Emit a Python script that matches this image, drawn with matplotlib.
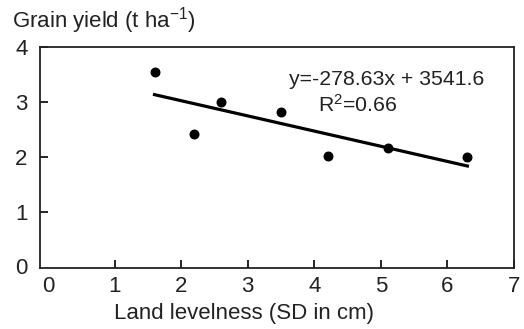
import numpy as np
import matplotlib
matplotlib.use("Agg")
import matplotlib.pyplot as plt

# land levelness (SD, cm) vs grain yield (t/ha)
levelness = [1.6, 2.2, 2.6, 3.5, 4.2, 5.1, 6.3]
grain_yield = [3.54, 2.42, 3.0, 2.82, 2.02, 2.16, 2.0]
x_ticks = [0, 1, 2, 3, 4, 5, 6, 7]
y_ticks = [0, 1, 2, 3, 4]
eq_text = "y=-278.63x + 3541.6"
r2_text = "R$^{2}$=0.66"

plt.rcParams['font.family'] = ['Liberation Sans', 'DejaVu Sans']
plt.rcParams['mathtext.fontset'] = 'custom'
plt.rcParams['mathtext.rm'] = 'Liberation Sans'
plt.rcParams['mathtext.it'] = 'Liberation Sans'
plt.rcParams['mathtext.default'] = 'regular'

fig = plt.figure(figsize=(5.24, 3.29), dpi=100)
ax = fig.add_axes([40/524, 61/329, 474/524, 221/329])

ax.scatter(levelness, grain_yield, s=38, color='black', zorder=3)

# linear fit line across the data range
slope, intercept = np.polyfit(levelness, grain_yield, 1)
xs = np.array([min(levelness), max(levelness)])
ax.plot(xs, slope * xs + intercept, color='black', lw=2.3)

ax.text(3.62, 3.41, eq_text, fontsize=15.3, va='center', ha='left', color='#222222')
ax.text(4.65, 2.94, r2_text, fontsize=15.3, va='center', ha='center', color='#222222')

ax.set_xlim(-0.12, 6.99)
ax.set_ylim(-0.03, 4.0)
ax.set_xticks(x_ticks)
ax.set_yticks(y_ticks)
ax.tick_params(axis='both', direction='in', length=6, width=1.2, labelsize=16,
               labelcolor='#222222')
ax.tick_params(axis='y', pad=9)
ax.tick_params(axis='x', pad=6)
# no tick marks at the corners
ax.xaxis.get_major_ticks()[0].tick1line.set_visible(False)
ax.yaxis.get_major_ticks()[0].tick1line.set_visible(False)
for sp in ax.spines.values():
    sp.set_linewidth(1.3)
    sp.set_color('#222222')

fig.text(12/524, 1 - 21/329, "Grain yield (t ha$^{-1}$)", fontsize=16, va='center',
         ha='left', color='#222222')
fig.text(244/524, 1 - 314/329, "Land levelness (SD in cm)", fontsize=16, va='center',
         ha='center', color='#222222')

fig.savefig("out.png", dpi=100)
